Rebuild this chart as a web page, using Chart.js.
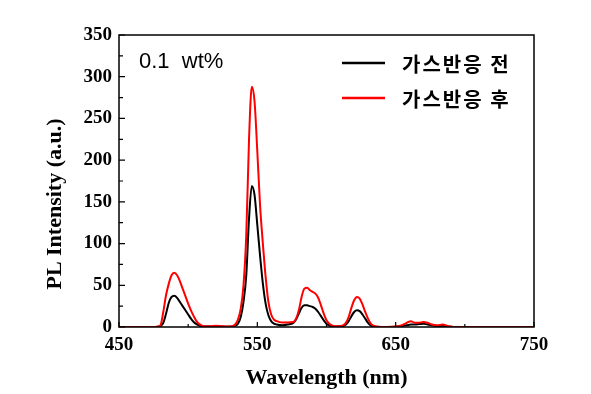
<!DOCTYPE html>
<html>
<head>
<meta charset="utf-8">
<script src="https://cdn.jsdelivr.net/npm/chart.js@4/dist/chart.umd.min.js"></script>
<style>
  html, body { margin: 0; padding: 0; background: #fff; }
  #wrap { width: 591px; height: 394px; }
</style>
</head>
<body>
<div id="wrap"><canvas id="plChart"></canvas></div>
<script>
// wavelength (nm)
const wavelengths = [
  450, 470, 476, 478, 480, 482, 484, 486, 488, 490,
  492, 494, 496, 498, 500, 502, 504, 506, 508, 512,
  516, 520, 524, 528, 532, 534, 536, 538, 540, 542,
  544, 546, 548, 550, 552, 554, 556, 558, 560, 562,
  564, 568, 572, 576, 578, 580, 582, 584, 586, 588,
  590, 592, 594, 596, 598, 600, 602, 604, 606, 608,
  612, 614, 616, 618, 620, 622, 624, 626, 628, 630,
  632, 634, 636, 640, 650, 654, 658, 661, 664, 667,
  670, 673, 676, 680, 684, 688, 692, 700, 750
];

// 가스반응 전
const beforeGas = [
  0, 0, 0, 0.3, 1, 5, 16, 29, 36, 37.5,
  35, 30, 25, 20, 15, 10, 6, 3.5, 2, 0.5,
  0.5, 1, 0.5, 0.3, 0.5, 1.5, 4, 12, 30, 62,
  130, 169, 158, 122, 85, 52, 28, 14, 7, 4,
  3, 2, 3, 5, 9, 16, 23, 26, 26, 25,
  24, 22, 18, 13, 8, 4, 2, 1, 0.5, 0.5,
  1, 3, 7, 13, 18, 20, 19, 15, 10, 5,
  2, 0.5, 0.2, 0, 0.3, 1, 2, 3, 3, 3.5,
  4, 3, 2, 1, 1.5, 0.5, 0, 0, 0
];

// 가스반응 후
const afterGas = [
  0, 0, 0, 0.5, 2, 18, 38, 52, 62, 65,
  62, 55, 46, 37, 28, 20, 13, 7, 3.5, 1,
  1, 1.5, 1, 0.5, 1, 3, 9, 22, 50, 110,
  225, 288, 270, 210, 145, 100, 60, 30, 15, 9,
  7, 5.5, 5.5, 6, 10, 20, 36, 46, 47, 44,
  42, 40, 35, 26, 16, 8, 4, 2, 1, 1,
  2, 5, 12, 23, 32, 36, 34, 27, 18, 10,
  4, 1.5, 0.5, 0, 0.5, 2, 5, 7, 5, 5,
  6, 5, 3, 2, 3, 1, 0, 0, 0
];

const xTicks = [450, 550, 650, 750];
const yTicks = [0, 50, 100, 150, 200, 250, 300, 350];
const seriesNames = ['가스반응 전', '가스반응 후'];

function toPoints(values) {
  return values.map((v, i) => ({ x: wavelengths[i], y: v }));
}

// frame, inward ticks, axis titles, note and legend
const framePlugin = {
  id: 'frame',
  afterDatasetsDraw(chart) {
    const ctx = chart.ctx;
    const a = chart.chartArea;
    const xs = chart.scales.x;
    const ys = chart.scales.y;
    ctx.save();
    ctx.strokeStyle = '#000';
    ctx.lineWidth = 1.5;
    ctx.strokeRect(a.left, a.top, a.right - a.left, a.bottom - a.top);

    ctx.lineWidth = 1.2;
    ctx.beginPath();
    for (let v = 0; v <= 350; v += 25) {
      const py = ys.getPixelForValue(v);
      const len = v % 50 === 0 ? 6 : 4;
      ctx.moveTo(a.left, py);
      ctx.lineTo(a.left + len, py);
    }
    for (let v = 450; v <= 750; v += 50) {
      const px = xs.getPixelForValue(v);
      const len = v % 100 === 50 ? 5 : 3;
      ctx.moveTo(px, a.bottom);
      ctx.lineTo(px, a.bottom - len);
    }
    ctx.stroke();
    ctx.restore();
  },
  afterDraw(chart) {
    const ctx = chart.ctx;
    const a = chart.chartArea;
    ctx.save();
    ctx.fillStyle = '#000';
    ctx.textAlign = 'center';
    ctx.textBaseline = 'middle';

    // axis titles
    ctx.font = 'bold 22px "Liberation Serif"';
    ctx.fillText('Wavelength (nm)', (a.left + a.right) / 2, 378);
    ctx.save();
    ctx.translate(55, 204);
    ctx.rotate(-Math.PI / 2);
    ctx.font = 'bold 22px "Liberation Serif"';
    ctx.fillText('PL Intensity (a.u.)', 0, 0);
    ctx.restore();

    // concentration note
    ctx.textAlign = 'left';
    ctx.font = '22px "Liberation Sans"';
    ctx.fillText('0.1  wt%', 139, 62);

    // legend
    ctx.font = 'bold 20px "Noto Sans CJK KR"';
    ctx.letterSpacing = '2px';
    chart.data.datasets.forEach((ds, i) => {
      const ly = 63 + i * 35;
      ctx.strokeStyle = ds.borderColor;
      ctx.lineWidth = 2.5;
      ctx.beginPath();
      ctx.moveTo(342, ly);
      ctx.lineTo(385, ly);
      ctx.stroke();
      ctx.fillStyle = '#000';
      ctx.fillText(ds.label, 402, ly + 1);
    });
    ctx.restore();
  }
};

new Chart(document.getElementById('plChart'), {
  type: 'line',
  data: {
    datasets: [{
      label: seriesNames[0],
      data: toPoints(beforeGas),
      borderColor: '#000000',
      borderWidth: 2,
      order: 1
    }, {
      label: seriesNames[1],
      data: toPoints(afterGas),
      borderColor: '#ff0000',
      borderWidth: 2,
      order: 0
    }]
  },
  options: {
    responsive: true,
    maintainAspectRatio: false,
    animation: false,
    layout: { padding: { top: 35, right: 57, left: 0, bottom: 0 } },
    elements: {
      point: { radius: 0 },
      line: { tension: 0.35, cubicInterpolationMode: 'monotone' }
    },
    plugins: {
      legend: { display: false },
      tooltip: { enabled: false }
    },
    scales: {
      x: {
        type: 'linear',
        min: 450,
        max: 750,
        afterFit: (scale) => { scale.height = 67; },
        afterBuildTicks: (scale) => { scale.ticks = xTicks.map(v => ({ value: v })); },
        grid: { display: false, drawTicks: false },
        border: { display: false },
        ticks: {
          autoSkip: false,
          maxRotation: 0,
          padding: 7,
          color: '#000',
          font: { family: 'Liberation Serif', size: 19, weight: 'bold' }
        }
      },
      y: {
        min: 0,
        max: 350,
        afterFit: (scale) => { scale.width = 119; },
        afterBuildTicks: (scale) => { scale.ticks = yTicks.map(v => ({ value: v })); },
        grid: { display: false, drawTicks: false },
        border: { display: false },
        ticks: {
          padding: 7,
          color: '#000',
          font: { family: 'Liberation Serif', size: 19, weight: 'bold' }
        }
      }
    }
  },
  plugins: [framePlugin]
});
</script>
</body>
</html>
